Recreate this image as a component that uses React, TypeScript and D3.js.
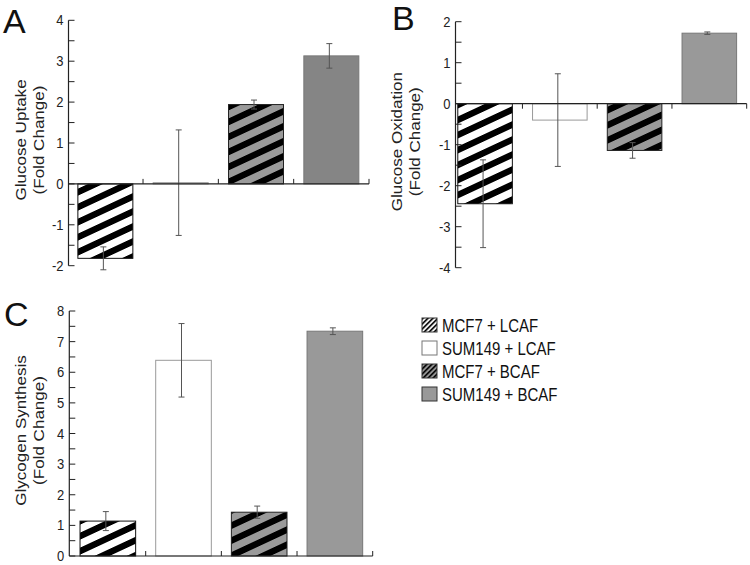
import * as d3 from 'd3';

const groups = ['MCF7 + LCAF', 'SUM149 + LCAF', 'MCF7 + BCAF', 'SUM149 + BCAF'];

const uptakeMean = [-1.82, 0.03, 1.94, 3.13];
const uptakeErr = [0.28, 1.29, 0.11, 0.3];

const oxidationMean = [-2.44, -0.4, -1.14, 1.72];
const oxidationErr = [1.07, 1.13, 0.19, 0.03];

const glycogenMean = [1.14, 6.39, 1.43, 7.34];
const glycogenErr = [0.31, 1.2, 0.2, 0.11];

const FONT = 'Arial, "Liberation Sans", Helvetica, sans-serif';
const STRETCH = 1.18;
const TITLE_STRETCH = 1.1;

const fills = ['url(#hatchWhite)', '#ffffff', 'url(#hatchGray)', '#999999'];
const strokes = ['#111', '#9a9a9a', '#222', '#777'];
const legendFills = ['url(#legWhite)', '#ffffff', 'url(#legGray)', '#999999'];

interface PanelProps {
  letter: string;
  letterX: number;
  letterY: number;
  title: [string, string];
  titleX: [number, number];
  values: number[];
  errors: number[];
  domain: [number, number];
  yRange: [number, number];
  axisX: number;
  bandRange: [number, number];
  padding: number;
  tickDir: number;
  lastFill?: string;
}

const Panel = (p: PanelProps) => {
  const y = d3.scaleLinear().domain(p.domain).range(p.yRange);
  const x = d3
    .scaleBand<string>()
    .domain(groups)
    .range(p.bandRange)
    .paddingInner(p.padding)
    .paddingOuter(p.padding / 2);
  const step = x.step();
  const y0 = y(0);
  const majors = d3.range(p.domain[0], p.domain[1] + 0.001, 1);
  const minors = d3.range(p.domain[0] + 0.5, p.domain[1], 1);
  const titleY = (p.yRange[0] + p.yRange[1]) / 2 - 3;

  return (
    <g>
      <text
        x={p.letterX}
        y={p.letterY}
        fontSize={34}
        fontFamily={FONT}
        fill="#111"
      >
        {p.letter}
      </text>
      {p.title.map((t, i) => (
        <text
          key={t}
          transform={`translate(${p.titleX[i]},${titleY}) rotate(-90) scale(${TITLE_STRETCH},1)`}
          textAnchor="middle"
          fontSize={15.5}
          fontFamily={FONT}
          fill="#222"
        >
          {t}
        </text>
      ))}

      {groups.map((g, i) => {
        const v = p.values[i];
        const bx = x(g) ?? 0;
        const top = Math.min(y(v), y0);
        const h = Math.abs(y(v) - y0);
        const fill = i === 3 && p.lastFill ? p.lastFill : fills[i];
        return (
          <rect
            key={g}
            x={bx}
            y={top}
            width={x.bandwidth()}
            height={Math.max(h, 1)}
            fill={fill}
            stroke={strokes[i]}
            strokeWidth={1}
          />
        );
      })}

      {groups.map((g, i) => {
        const cx = (x(g) ?? 0) + x.bandwidth() / 2 - 2;
        const hi = y(p.values[i] + p.errors[i]);
        const lo = y(p.values[i] - p.errors[i]);
        return (
          <g key={g} stroke="#555" strokeWidth={1}>
            <line x1={cx} x2={cx} y1={hi} y2={lo} />
            <line x1={cx - 3} x2={cx + 3} y1={hi} y2={hi} />
            <line x1={cx - 3} x2={cx + 3} y1={lo} y2={lo} />
          </g>
        );
      })}

      {/* y axis */}
      <line
        x1={p.axisX}
        x2={p.axisX}
        y1={p.yRange[1]}
        y2={p.yRange[0]}
        stroke="#222"
        strokeWidth={1.2}
      />
      {majors.map((t) => (
        <g key={`M${t}`}>
          <line
            x1={p.axisX}
            x2={p.axisX + 6}
            y1={y(t)}
            y2={y(t)}
            stroke="#222"
            strokeWidth={1}
          />
          <text
            transform={`translate(${p.axisX - 5},${y(t) + 5}) scale(1,${STRETCH})`}
            textAnchor="end"
            fontSize={13}
            fontFamily={FONT}
            fill="#222"
          >
            {t}
          </text>
        </g>
      ))}
      {minors.map((t) => (
        <line
          key={`m${t}`}
          x1={p.axisX}
          x2={p.axisX + 6}
          y1={y(t)}
          y2={y(t)}
          stroke="#222"
          strokeWidth={1}
        />
      ))}

      {/* x axis at zero */}
      <line
        x1={p.axisX}
        x2={p.bandRange[1]}
        y1={y0}
        y2={y0}
        stroke="#222"
        strokeWidth={1.2}
      />
      {groups.map((g) => {
        const tx = (x(g) ?? 0) + x.bandwidth() + (step - x.bandwidth()) / 2;
        return (
          <line
            key={g}
            x1={tx}
            x2={tx}
            y1={y0}
            y2={y0 + p.tickDir * 5}
            stroke="#222"
            strokeWidth={1}
          />
        );
      })}
    </g>
  );
};

const App = () => {
  return (
    <svg
      width={750}
      height={565}
      style={{ position: 'absolute', left: 0, top: 0, background: '#fff' }}
    >
      <defs>
        <pattern
          id="hatchWhite"
          patternUnits="userSpaceOnUse"
          width={20}
          height={15}
          patternTransform="skewY(-25)"
        >
          <rect width={20} height={15} fill="#fff" />
          <rect y={0} width={20} height={7} fill="#000" />
        </pattern>
        <pattern
          id="hatchGray"
          patternUnits="userSpaceOnUse"
          width={20}
          height={15}
          patternTransform="skewY(-25)"
        >
          <rect width={20} height={15} fill="#9a9a9a" />
          <rect y={0} width={20} height={7} fill="#000" />
        </pattern>
        <pattern
          id="legWhite"
          patternUnits="userSpaceOnUse"
          width={10}
          height={5}
          patternTransform="skewY(-45)"
        >
          <rect width={10} height={5} fill="#fff" />
          <rect width={10} height={2.4} fill="#000" />
        </pattern>
        <pattern
          id="legGray"
          patternUnits="userSpaceOnUse"
          width={10}
          height={5}
          patternTransform="skewY(-45)"
        >
          <rect width={10} height={5} fill="#9a9a9a" />
          <rect width={10} height={2.4} fill="#000" />
        </pattern>
      </defs>

      <Panel
        letter="A"
        letterX={3}
        letterY={33}
        title={['Glucose Uptake', '(Fold Change)']}
        titleX={[26, 44]}
        values={uptakeMean}
        errors={uptakeErr}
        domain={[-2, 4]}
        yRange={[265.7, 20.3]}
        axisX={68.5}
        bandRange={[67.7, 369]}
        padding={0.27}
        tickDir={-1}
        lastFill="#858585"
      />
      <Panel
        letter="B"
        letterX={392}
        letterY={30}
        title={['Glucose Oxidation', '(Fold Change)']}
        titleX={[402, 420]}
        values={oxidationMean}
        errors={oxidationErr}
        domain={[-4, 2]}
        yRange={[267.7, 21.7]}
        axisX={455.5}
        bandRange={[447.7, 746.7]}
        padding={0.27}
        tickDir={1}
      />
      <Panel
        letter="C"
        letterX={4}
        letterY={326}
        title={['Glycogen Synthesis', '(Fold Change)']}
        titleX={[26, 44]}
        values={glycogenMean}
        errors={glycogenErr}
        domain={[0, 8]}
        yRange={[556, 311]}
        axisX={69.3}
        bandRange={[70, 372.7]}
        padding={0.265}
        tickDir={-1}
      />

      {groups.map((g, i) => {
        const ty = 318 + i * 23;
        return (
          <g key={g}>
            <rect
              x={422}
              y={ty}
              width={15}
              height={14}
              fill={legendFills[i]}
              stroke={i === 1 ? '#777' : '#333'}
              strokeWidth={1}
            />
            <text
              transform={`translate(442,${ty + 14}) scale(1,${STRETCH})`}
              fontSize={15}
              fontFamily={FONT}
              fill="#111"
            >
              {g}
            </text>
          </g>
        );
      })}
    </svg>
  );
};

export default App;
